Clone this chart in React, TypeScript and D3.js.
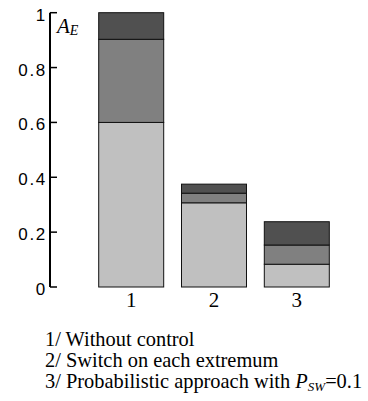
import React from "react";
import * as d3 from "d3";

const categories = ["1", "2", "3"];
const seriesLow = [0.6, 0.307, 0.083];
const seriesMid = [0.303, 0.035, 0.07];
const seriesHigh = [0.097, 0.033, 0.085];
const yTicks = [0, 0.2, 0.4, 0.6, 0.8, 1];
const yTickLabels = ["0", "0.2", "0.4", "0.6", "0.8", "1"];
const legendLines = ["1/ Without control", "2/ Switch on each extremum", "3/ Probabilistic approach with "];
const colors = ["#c0c0c0", "#808080", "#505050"];

export default function App() {
  const W = 368, H = 401;
  const y = d3.scaleLinear().domain([0, 1]).range([287, 12.7]);
  const x = d3.scaleBand().domain(categories).range([98.7, 329.3]).paddingInner(0.215).paddingOuter(0);
  const data = categories.map((c, i) => ({ c, low: seriesLow[i], mid: seriesMid[i], high: seriesHigh[i] }));
  const stack = d3.stack<any>().keys(["low", "mid", "high"])(data);
  const axisX = 50;
  return (
    <div style={{ position: "absolute", left: 0, top: 0 }}>
      <svg width={W} height={H} style={{ display: "block", background: "#fff" }}>
        {stack.map((layer, li) =>
          layer.map((d, i) => (
            <rect key={li + "-" + i}
              x={x(categories[i])!}
              y={y(d[1])}
              width={x.bandwidth()}
              height={y(d[0]) - y(d[1])}
              fill={colors[li]}
              stroke="#111"
              strokeWidth={1}
            />
          ))
        )}
        <line x1={axisX} x2={axisX} y1={y(1)} y2={y(0)} stroke="#000" strokeWidth={2} />
        {yTicks.map((t, i) => (
          <g key={t}>
            <line x1={axisX} x2={axisX + 7} y1={y(t)} y2={y(t)} stroke="#000" strokeWidth={1.5} />
            <text x={axisX - 3} y={y(t) + 8} textAnchor="end" fontFamily="'Liberation Sans', Arial, sans-serif" fontSize={17} letterSpacing={1.7}>
              {yTickLabels[i]}
            </text>
          </g>
        ))}
        {categories.map((c) => (
          <text key={c} x={x(c)! + x.bandwidth() / 2} y={307} textAnchor="middle" fontFamily="'Liberation Serif', 'Times New Roman', serif" fontSize={21}>
            {c}
          </text>
        ))}
        <text x={57} y={33} fontFamily="'Liberation Serif', 'Times New Roman', serif" fontSize={21} fontStyle="italic">
          A<tspan fontSize={14} dy={2}>E</tspan>
        </text>
        {legendLines.map((l, i) => (
          <text key={i} x={45} y={346 + i * 21} fontFamily="'Liberation Serif', 'Times New Roman', serif" fontSize={20.4}>
            {l}
            {i === 2 && (
              <>
                <tspan fontStyle="italic">P</tspan>
                <tspan fontStyle="italic" fontSize={13} dy={3}>SW</tspan>
                <tspan dy={-3}>=0.1</tspan>
              </>
            )}
          </text>
        ))}
      </svg>
    </div>
  );
}
